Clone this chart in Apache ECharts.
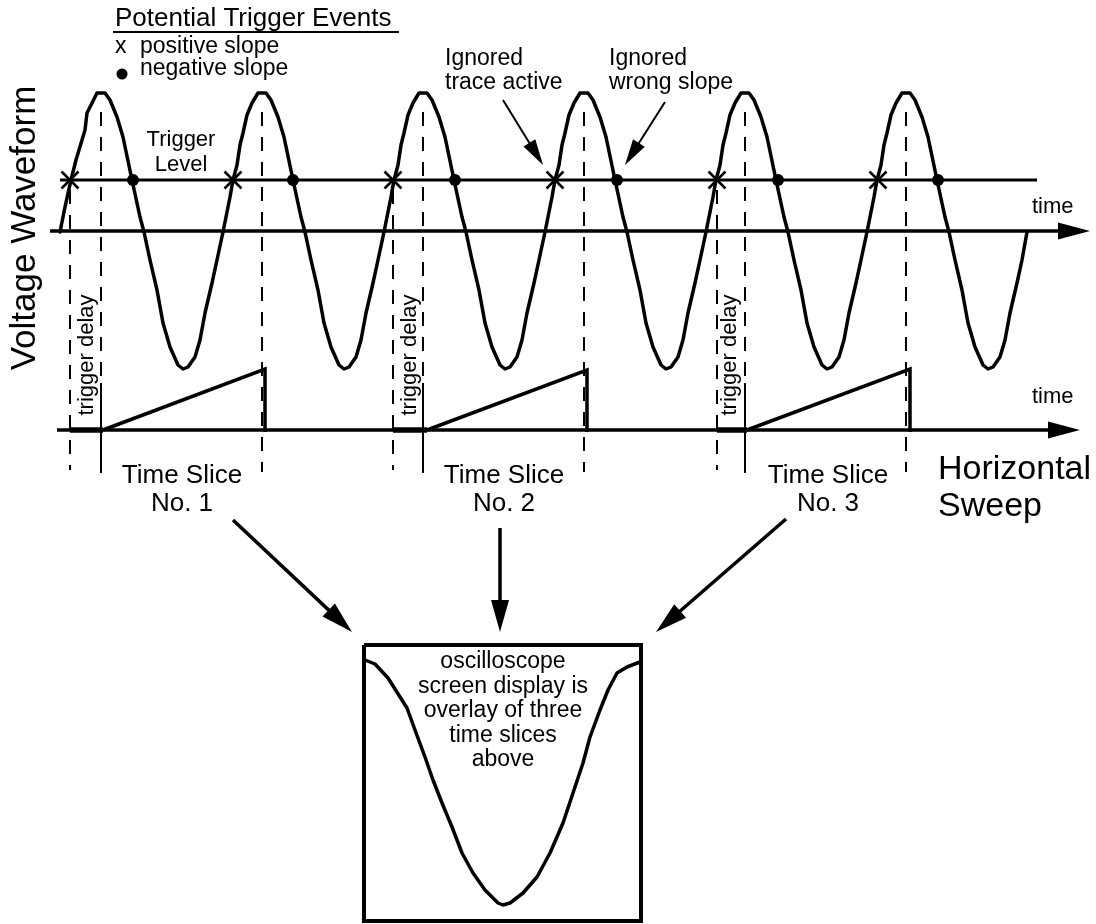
<!DOCTYPE html>
<html>
<head>
<meta charset="utf-8">
<script src="https://cdn.jsdelivr.net/npm/echarts@6/dist/echarts.min.js"></script>
<style>
html,body{margin:0;padding:0;background:#fff;}
#c{width:1096px;height:924px;}
</style>
</head>
<body>
<div id="c"></div>
<script>
// ---- data (diagram coordinates) ----
const waveform = [[60,232],[65,207],[71,180],[76,160],[82,140],[85,130],[87,113],[90,107],[97,93],[105,93],[110,100],[117,117],[123,137],[132,180],[140,217],[144,232],[150,260],[157,290],[163,323],[170,347],[178,365],[183,369],[188,367],[195,357],[200,340],[205,313],[212,283],[217,260],
[223,232],[230,197],[233,180],[237,165],[240,145],[243,133],[247,115],[252,103],[258,93],[266,93],[271,100],[278,117],[284,137],[293,180],[301,217],[305,232],[311,260],[318,290],[324,323],[331,347],[339,365],[344,369],[349,367],[356,357],[361,340],[366,313],[373,283],[378,260],
[384,232],[391,197],[394,180],[398,165],[401,145],[404,133],[408,115],[413,103],[419,93],[427,93],[432,100],[439,117],[445,137],[454,180],[462,217],[466,232],[472,260],[479,290],[485,323],[492,347],[500,365],[505,369],[510,367],[517,357],[522,340],[527,313],[534,283],[539,260],
[545,232],[552,197],[555,180],[559,165],[562,145],[565,133],[569,115],[574,103],[580,93],[588,93],[593,100],[600,117],[606,137],[615,180],[623,217],[627,232],[633,260],[640,290],[646,323],[653,347],[661,365],[666,369],[671,367],[678,357],[683,340],[688,313],[695,283],[700,260],
[706,232],[713,197],[716,180],[720,165],[723,145],[726,133],[730,115],[735,103],[741,93],[749,93],[754,100],[761,117],[767,137],[776,180],[784,217],[788,232],[794,260],[801,290],[807,323],[814,347],[822,365],[827,369],[832,367],[839,357],[844,340],[849,313],[856,283],[861,260],
[867,232],[874,197],[877,180],[881,165],[884,145],[887,133],[891,115],[896,103],[902,93],[910,93],[915,100],[922,117],[928,137],[937,180],[945,217],[949,232],[955,260],[962,290],[968,323],[975,347],[983,365],[988,369],[993,367],[1000,357],[1005,340],[1010,313],[1017,283],[1022,260],[1027,232]];

const triggerLevel = [[60,180],[1037,180]];
const positiveSlopeEvents = [[70,180],[233,180],[393,180],[555,180],[717,180],[878,180]];
const negativeSlopeEvents = [[133,180],[293,180],[455,180],[617,180],[778,180],[938,180]];
const legendDot = [[122,74]];

const triggerMarks = [70,393,717];
const delayEnds = [101,423,745];
const sliceEnds = [262,584,906];

const sweepRamps = [
  [[103,430],[265,369],[265,432]],
  [[427,430],[587,370],[587,432]],
  [[747,430],[910,369],[910,432]]
];
const delaySegments = [
  [[70,430],[103,430]],
  [[393,430],[427,430]],
  [[717,430],[747,430]]
];

const axisArrows = [[50,231,1090,231],[57,430,1080,430]];
const bigArrows = [[233,520,352,632],[500,528,500,632],[786,519,656,632]];
const noteArrows = [[503,100,543,165],[665,102,625,165]];

const screenBox = [[364,645],[641,645],[641,921],[364,921],[364,645]];
const screenTrace = [[365,660],[375,664],[388,678],[407,708],[415,730],[425,757],[433,780],[442,803],[452,827],[462,853],[473,873],[485,890],[498,903],[503,905],[510,903],[523,893],[537,877],[550,853],[563,823],[573,793],[583,763],[590,737],[600,710],[608,690],[617,673],[627,667],[640,662]];

const sliceLabels = [['Time Slice','No. 1',182],['Time Slice','No. 2',504],['Time Slice','No. 3',828]];
const screenLines = ['oscilloscope','screen display is','overlay of three','time slices','above'];
const delayLabelX = [87,410,730];

// ---- chart ----
const FF = '"Liberation Sans", Arial, Helvetica, sans-serif';
const chart = echarts.init(document.getElementById('c'), null, {renderer:'canvas'});

function arrowSeries(data, width, headLen, headHalf){
  return {
    type:'custom', coordinateSystem:'cartesian2d', data, animation:false, silent:true, clip:false,
    renderItem(params, api){
      const p1 = api.coord([api.value(0), api.value(1)]);
      const p2 = api.coord([api.value(2), api.value(3)]);
      const dx = p2[0]-p1[0], dy = p2[1]-p1[1], L = Math.hypot(dx,dy);
      const ux = dx/L, uy = dy/L;
      const bx = p2[0]-ux*headLen, by = p2[1]-uy*headLen;
      return {type:'group', children:[
        {type:'line', shape:{x1:p1[0],y1:p1[1],x2:bx+ux*3,y2:by+uy*3}, style:{stroke:'#000', lineWidth:width}},
        {type:'polygon', shape:{points:[[p2[0],p2[1]],[bx-uy*headHalf,by+ux*headHalf],[bx+uy*headHalf,by-ux*headHalf]]}, style:{fill:'#000'}}
      ]};
    }
  };
}

function vLines(xs, y1, y2){ return xs.map(x => ({coords:[[x,y1],[x,y2]]})); }

function txt(text, x, y, size, align, rot){
  return {type:'text', x, y, rotation: rot || 0, silent:true,
    style:{text, font: size+'px '+FF, fill:'#000', align: align||'left', verticalAlign:'middle', textAlign: align||'left', textVerticalAlign:'middle'}};
}

const graphics = [
  txt('Potential Trigger Events',115,19,26),
  {type:'line', shape:{x1:113,y1:32,x2:399,y2:32}, style:{stroke:'#000', lineWidth:2}, silent:true},
  txt('x',115,47,23),
  txt('positive slope',140,47,23),
  txt('negative slope',140,69,23),
  txt('Trigger',181,140,22,'center'),
  txt('Level',181,165,22,'center'),
  txt('Ignored',445,59,23),
  txt('trace active',445,83,23),
  txt('Ignored',609,59,23),
  txt('wrong slope',609,83,23),
  txt('time',1032,207,22),
  txt('time',1032,397,22),
  txt('Horizontal',938,470,34),
  txt('Sweep',938,507,34),
  txt('Voltage Waveform',25,228,35,'center',Math.PI/2)
];
sliceLabels.forEach(s => { graphics.push(txt(s[0],s[2],476,26,'center')); graphics.push(txt(s[1],s[2],504,26,'center')); });
screenLines.forEach((s,i) => graphics.push(txt(s,503,662+i*24.5,23,'center')));
delayLabelX.forEach(x => graphics.push(txt('trigger delay',x,355,22,'center',Math.PI/2)));

const option = {
  animation:false,
  backgroundColor:'#fff',
  grid:{left:0,right:0,top:0,bottom:0,containLabel:false},
  xAxis:{type:'value',min:0,max:1096,show:false},
  yAxis:{type:'value',min:0,max:924,inverse:true,show:false},
  series:[
    // dashed construction lines
    {type:'lines', coordinateSystem:'cartesian2d', silent:true,
     data: vLines(triggerMarks,190,470).concat(vLines(delayEnds,112,380)).concat(vLines(sliceEnds,112,472)),
     lineStyle:{color:'#000', width:2, type:[14,11], opacity:1}},
    // solid end-of-delay markers
    {type:'lines', coordinateSystem:'cartesian2d', silent:true,
     data: vLines(delayEnds,383,473),
     lineStyle:{color:'#000', width:2, type:'solid', opacity:1}},
    // trigger level
    {type:'line', data: triggerLevel, symbol:'none', silent:true, lineStyle:{color:'#000', width:3}},
    // waveform
    {type:'line', data: waveform, symbol:'none', silent:true, lineStyle:{color:'#000', width:3.5, join:'round', cap:'round'}},
    // axes with arrowheads
    arrowSeries(axisArrows, 3.5, 32, 8.5),
    // sweep ramps
    {type:'lines', coordinateSystem:'cartesian2d', polyline:true, silent:true,
     data: sweepRamps.map(r => ({coords:r})),
     lineStyle:{color:'#000', width:3.5, opacity:1, join:'miter'}},
    {type:'lines', coordinateSystem:'cartesian2d', silent:true,
     data: delaySegments.map(r => ({coords:r})),
     lineStyle:{color:'#000', width:5.5, opacity:1}},
    // trigger events
    {type:'custom', coordinateSystem:'cartesian2d', data: positiveSlopeEvents, silent:true, clip:false,
     renderItem(params, api){
       const p = api.coord([api.value(0), api.value(1)]); const s = 8.5;
       return {type:'group', children:[
         {type:'line', shape:{x1:p[0]-s,y1:p[1]-s,x2:p[0]+s,y2:p[1]+s}, style:{stroke:'#000', lineWidth:2.5}},
         {type:'line', shape:{x1:p[0]-s,y1:p[1]+s,x2:p[0]+s,y2:p[1]-s}, style:{stroke:'#000', lineWidth:2.5}}
       ]};
     }},
    {type:'scatter', data: negativeSlopeEvents, symbol:'circle', symbolSize:12, silent:true, itemStyle:{color:'#000', opacity:1}},
    {type:'scatter', data: legendDot, symbol:'circle', symbolSize:11, silent:true, itemStyle:{color:'#000', opacity:1}},
    // annotation arrows
    arrowSeries(noteArrows, 2, 26, 7),
    arrowSeries(bigArrows, 3.5, 32, 9),
    // oscilloscope screen
    {type:'lines', coordinateSystem:'cartesian2d', polyline:true, silent:true,
     data:[{coords:screenBox}], lineStyle:{color:'#000', width:4, opacity:1, join:'miter'}},
    {type:'line', data: screenTrace, symbol:'none', silent:true, lineStyle:{color:'#000', width:3.5, join:'round'}}
  ],
  graphic: graphics
};
chart.setOption(option);
</script>
</body>
</html>
